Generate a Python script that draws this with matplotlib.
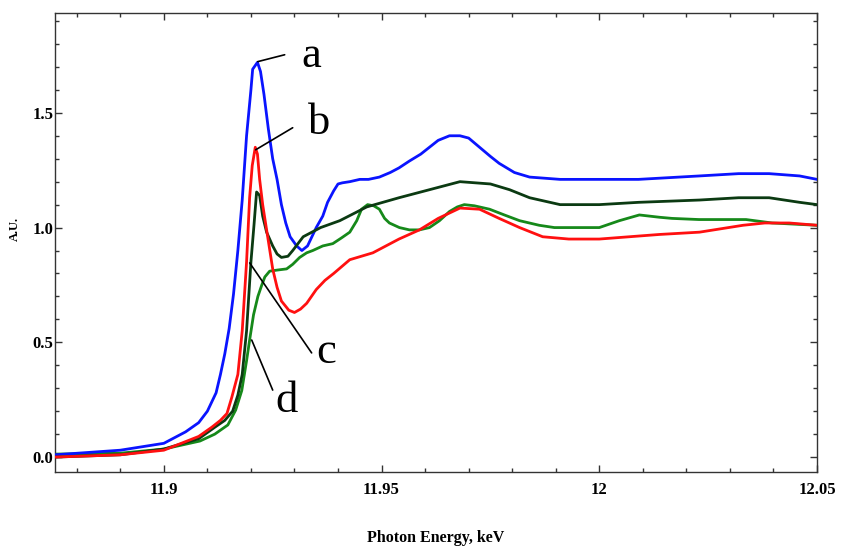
import matplotlib.pyplot as plt
from matplotlib.ticker import FixedLocator, MultipleLocator

plt.rcParams['font.family'] = ['Liberation Serif', 'DejaVu Serif']

# energy (keV) / absorbance (A.U.) for the four spectra
energy_a = [11.875, 11.890, 11.900, 11.905, 11.908, 11.910, 11.912, 11.913, 11.914, 11.915,
            11.916, 11.917, 11.918, 11.919, 11.920, 11.9204, 11.9215, 11.9222, 11.923, 11.924,
            11.925, 11.926, 11.927, 11.928, 11.929, 11.9305, 11.9317, 11.933, 11.934, 11.935,
            11.9365, 11.9376, 11.939, 11.940, 11.941, 11.9427, 11.945, 11.947, 11.9495, 11.952,
            11.954, 11.9564, 11.959, 11.961, 11.963, 11.9656, 11.968, 11.970, 11.9725, 11.975,
            11.977, 11.9805, 11.984, 11.991, 12.000, 12.009, 12.023, 12.032, 12.039, 12.046,
            12.050]
absorb_a = [0.01, 0.03, 0.06, 0.11, 0.15, 0.20, 0.28, 0.36, 0.45, 0.56,
            0.71, 0.90, 1.12, 1.40, 1.60, 1.69, 1.72, 1.68, 1.58, 1.43,
            1.30, 1.21, 1.10, 1.02, 0.96, 0.92, 0.90, 0.92, 0.96, 1.00,
            1.05, 1.11, 1.16, 1.19, 1.195, 1.20, 1.21, 1.21, 1.22, 1.24,
            1.26, 1.29, 1.32, 1.35, 1.38, 1.40, 1.40, 1.39, 1.35, 1.31,
            1.28, 1.24, 1.22, 1.21, 1.21, 1.21, 1.225, 1.235, 1.235, 1.225,
            1.21]

energy_b = [11.875, 11.890, 11.900, 11.908, 11.911, 11.913, 11.9145, 11.9156, 11.917, 11.918,
            11.919, 11.9197, 11.9203, 11.921, 11.9215, 11.922, 11.9227, 11.9236, 11.925, 11.926,
            11.927, 11.9287, 11.930, 11.9314, 11.9328, 11.935, 11.937, 11.939, 11.9427, 11.948,
            11.954, 11.9587, 11.963, 11.968, 11.9725, 11.977, 11.9817, 11.987, 11.993, 12.000,
            12.0138, 12.023, 12.033, 12.038, 12.0436, 12.050]
absorb_b = [0.00, 0.01, 0.03, 0.09, 0.13, 0.16, 0.19, 0.26, 0.36, 0.55,
            0.85, 1.13, 1.27, 1.35, 1.32, 1.21, 1.10, 0.99, 0.82, 0.74,
            0.68, 0.64, 0.63, 0.645, 0.67, 0.73, 0.77, 0.80, 0.86, 0.89,
            0.95, 0.99, 1.04, 1.085, 1.08, 1.04, 1.00, 0.96, 0.95, 0.95,
            0.97, 0.98, 1.01, 1.02, 1.02, 1.01]

energy_c = [11.875, 11.890, 11.900, 11.908, 11.9117, 11.914, 11.9158, 11.917, 11.918, 11.919,
            11.920, 11.9207, 11.9213, 11.922, 11.9227, 11.9236, 11.925, 11.926, 11.927, 11.9285,
            11.9296, 11.932, 11.936, 11.9404, 11.9466, 11.954, 11.961, 11.968, 11.975, 11.9794,
            11.984, 11.991, 12.000, 12.009, 12.023, 12.032, 12.039, 12.046, 12.050]
absorb_c = [0.00, 0.01, 0.035, 0.08, 0.13, 0.16, 0.20, 0.27, 0.36, 0.55,
            0.85, 1.01, 1.155, 1.14, 1.05, 0.98, 0.92, 0.885, 0.87, 0.875,
            0.90, 0.96, 1.00, 1.03, 1.09, 1.13, 1.165, 1.20, 1.19, 1.165,
            1.13, 1.10, 1.10, 1.11, 1.12, 1.13, 1.13, 1.11, 1.10]

energy_d = [11.875, 11.890, 11.900, 11.9083, 11.9117, 11.9147, 11.9165, 11.9179, 11.919, 11.9197,
            11.9206, 11.9216, 11.9225, 11.9232, 11.9243, 11.9261, 11.9282, 11.9296, 11.9312, 11.9328,
            11.9342, 11.9365, 11.9388, 11.9408, 11.9427, 11.9443, 11.9454, 11.9468, 11.9482, 11.9495,
            11.9507, 11.9518, 11.9541, 11.9564, 11.9587, 11.961, 11.9633, 11.9656, 11.9674, 11.969,
            11.9713, 11.9748, 11.9782, 11.9817, 11.9862, 11.9897, 11.9931, 11.9966, 12.000, 12.0046,
            12.0092, 12.0138, 12.0167, 12.0229, 12.0337, 12.0397, 12.050]
absorb_d = [0.013, 0.017, 0.035, 0.07, 0.10, 0.14, 0.205, 0.29, 0.42, 0.51,
            0.62, 0.70, 0.75, 0.785, 0.81, 0.815, 0.82, 0.84, 0.87, 0.89,
            0.90, 0.92, 0.93, 0.955, 0.98, 1.03, 1.08, 1.10, 1.095, 1.08,
            1.04, 1.02, 1.00, 0.99, 0.99, 1.00, 1.03, 1.07, 1.09, 1.10,
            1.095, 1.08, 1.055, 1.03, 1.01, 1.00, 1.00, 1.00, 1.00, 1.03,
            1.055, 1.045, 1.04, 1.035, 1.035, 1.02, 1.01]

x_ticks = [11.9, 11.95, 12.0, 12.05]
x_tick_labels = ['11.9', '11.95', '12', '12.05']
y_ticks = [0.0, 0.5, 1.0, 1.5]
y_tick_labels = ['0.0', '0.5', '1.0', '1.5']

# label letter, point on curve, end of leader, text position
callouts = [
    ('a', (11.92156, 1.723), (11.92775, 1.753), (11.93394, 1.749)),
    ('b', (11.9211, 1.339), (11.92959, 1.435), (11.93555, 1.457)),
    ('c', (11.91972, 0.846), (11.93394, 0.454), (11.93716, 0.458)),
    ('d', (11.92018, 0.510), (11.92500, 0.292), (11.92821, 0.244)),
]

fig = plt.figure(figsize=(8.47, 5.5), dpi=100)
ax = fig.add_axes([0.0649, 0.1418, 0.8997, 0.8346])

lw = 2.0
ax.plot(energy_a, absorb_a, color='#0a14ff', lw=lw, zorder=3)
ax.plot(energy_c, absorb_c, color='#0b3a12', lw=lw, zorder=4)
ax.plot(energy_d, absorb_d, color='#16891a', lw=lw, zorder=2)
ax.plot(energy_b, absorb_b, color='#ff1010', lw=lw, zorder=5)

for letter, pt, end, pos in callouts:
    ax.annotate('', xy=pt, xytext=end,
                arrowprops=dict(arrowstyle='-', color='black', lw=1.2,
                                shrinkA=0, shrinkB=0), zorder=6)
    ax.text(pos[0], pos[1], letter, fontsize=32, ha='center', va='center',
            family='Liberation Serif')

ax.set_xlim(11.875, 12.05)
ax.set_ylim(-0.065, 1.935)

ax.xaxis.set_major_locator(FixedLocator(x_ticks))
ax.set_xticklabels(x_tick_labels)
ax.xaxis.set_minor_locator(MultipleLocator(0.01))
ax.yaxis.set_major_locator(FixedLocator(y_ticks))
ax.set_yticklabels(y_tick_labels)
ax.yaxis.set_minor_locator(MultipleLocator(0.1))

ax.tick_params(which='both', direction='in', top=True, right=True,
               color='#333333', width=1.0)
ax.tick_params(which='major', length=5)
ax.tick_params(which='minor', length=3)
ax.tick_params(axis='x', which='major', pad=7, labelsize=12)
ax.tick_params(axis='y', which='major', pad=1, labelsize=12)
for lab in ax.get_xticklabels() + ax.get_yticklabels():
    lab.set_fontweight('bold')

for sp in ax.spines.values():
    sp.set_color('#333333')
    sp.set_linewidth(1.0)

ax.set_xlabel('Photon Energy, keV', fontsize=11.5, fontweight='bold')
ax.xaxis.set_label_coords(0.5, -0.127)
ax.set_ylabel('A.U.', fontsize=9, fontweight='bold')
ax.yaxis.set_label_coords(-0.045, 0.53)

fig.savefig('out.png', dpi=100)
